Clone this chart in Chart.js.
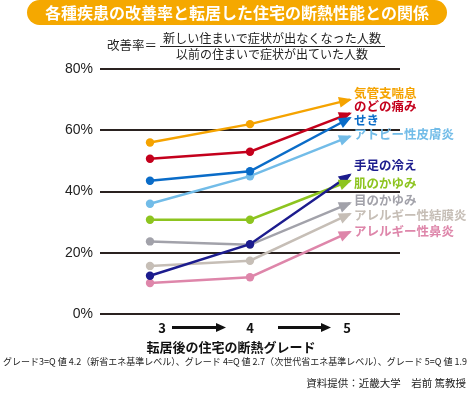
<!DOCTYPE html>
<html><head><meta charset="utf-8">
<script src="https://cdn.jsdelivr.net/npm/chart.js@4"></script>
<style>html,body{margin:0;padding:0;background:#fff}#wrap{width:470px;height:395px}</style>
</head><body><div id="wrap"><canvas id="c" width="470" height="395"></canvas></div>
<script>
const grades = [3, 4, 5];
const yTicks = [0, 20, 40, 60, 80];
const seriesNames = ['気管支喘息','のどの痛み','せき','アトピー性皮膚炎','手足の冷え','肌のかゆみ','目のかゆみ','アレルギー性結膜炎','アレルギー性鼻炎'];
const asthma   = [56.0, 62.0, 70.0];
const throat   = [50.7, 53.0, 65.5];
const cough    = [43.5, 46.6, 64.0];
const atopic   = [36.0, 45.0, 58.0];
const coldLimb = [12.5, 22.8, 45.5];
const skinItch = [30.8, 30.8, 43.5];
const eyeItch  = [23.7, 22.6, 36.2];
const conjunct = [15.7, 17.4, 32.7];
const rhinitis = [10.1, 12.0, 26.8];
const seriesValues = [asthma, throat, cough, atopic, coldLimb, skinItch, eyeItch, conjunct, rhinitis];
const colors = ['#F5A300','#C4001C','#0A6CC8','#72BCE8','#1C1C8E','#8DC41F','#A2A2AA','#C6BEB6','#DE86AA'];
const labelY = [93, 106, 120, 134, 165, 183, 200, 215, 231];
const JP = '"Noto Sans CJK JP", sans-serif';

const datasets = seriesValues.map((vals, i) => ({
  label: seriesNames[i],
  data: vals.map((v, j) => ({x: grades[j], y: v})),
  borderColor: colors[i],
  backgroundColor: colors[i],
  borderWidth: 2.5,
  pointRadius: vals.map((v, j) => j === vals.length - 1 ? 0 : 4.2),
  pointBorderWidth: 0,
  tension: 0,
  order: i
}));

const deco = {
  id: 'deco',
  afterDatasetsDraw(chart) {
    const ctx = chart.ctx;
    const xs = chart.scales.x;
    // arrowheads
    chart.data.datasets.forEach((ds, i) => {
      const pts = chart.getDatasetMeta(i).data;
      const a = pts[pts.length - 2], b = pts[pts.length - 1];
      const ang = Math.atan2(b.y - a.y, b.x - a.x);
      const L = 11, W = 5.5;
      ctx.save();
      ctx.translate(b.x, b.y);
      ctx.rotate(ang);
      ctx.beginPath();
      ctx.moveTo(2, 0);
      ctx.lineTo(-L, -W);
      ctx.lineTo(-L, W);
      ctx.closePath();
      ctx.fillStyle = ds.borderColor;
      ctx.fill();
      ctx.restore();
    });
    // series labels
    ctx.save();
    ctx.textBaseline = 'middle';
    ctx.textAlign = 'left';
    ctx.font = 'bold 12.5px ' + JP;
    seriesNames.forEach((n, i) => {
      ctx.fillStyle = colors[i];
      ctx.fillText(n, 354, labelY[i]);
    });
    ctx.restore();
  },
  afterDraw(chart) {
    const ctx = chart.ctx;
    const xs = chart.scales.x;
    ctx.save();
    // title pill
    ctx.fillStyle = '#F5A800';
    ctx.beginPath();
    ctx.roundRect(27, 0, 420, 25, 12.5);
    ctx.fill();
    ctx.fillStyle = '#fff';
    ctx.font = 'bold 16px ' + JP;
    ctx.textAlign = 'center';
    ctx.textBaseline = 'middle';
    ctx.fillText('各種疾患の改善率と転居した住宅の断熱性能との関係', 237, 13, 392);
    // formula
    ctx.fillStyle = '#222';
    ctx.font = '12.5px ' + JP;
    ctx.textAlign = 'left';
    ctx.fillText('改善率＝', 107, 45);
    ctx.textAlign = 'center';
    ctx.fillText('新しい住まいで症状が出なくなった人数', 272, 38, 218);
    ctx.fillText('以前の住まいで症状が出ていた人数', 272, 54, 192);
    ctx.strokeStyle = '#222';
    ctx.lineWidth = 1;
    ctx.beginPath();
    ctx.moveTo(160, 46.5); ctx.lineTo(385, 46.5);
    ctx.stroke();
    // grade row
    ctx.font = 'bold 13px ' + JP;
    ctx.fillStyle = '#111';
    const gx = [xs.getPixelForValue(3) + 12, xs.getPixelForValue(4), xs.getPixelForValue(5) - 3];
    grades.forEach((g, j) => ctx.fillText(String(g), gx[j], 328));
    const arrow = (x1, x2, y) => {
      ctx.lineWidth = 3;
      ctx.strokeStyle = '#111';
      ctx.beginPath(); ctx.moveTo(x1, y); ctx.lineTo(x2 - 8, y); ctx.stroke();
      ctx.beginPath(); ctx.moveTo(x2, y); ctx.lineTo(x2 - 10, y - 4.5); ctx.lineTo(x2 - 10, y + 4.5); ctx.closePath();
      ctx.fillStyle = '#111'; ctx.fill();
    };
    arrow(172, 226, 327.5);
    arrow(278, 331, 327.5);
    ctx.font = 'bold 13px ' + JP;
    ctx.fillText('転居後の住宅の断熱グレード', 231, 347);
    ctx.font = '9.5px ' + JP;
    ctx.textAlign = 'left';
    ctx.fillStyle = '#222';
    ctx.fillText('グレード3=Q 値 4.2（新省エネ基準レベル）、グレード 4=Q 値 2.7（次世代省エネ基準レベル）、グレード 5=Q 値 1.9', 3, 361, 464);
    ctx.textAlign = 'right';
    ctx.font = '10.5px ' + JP;
    ctx.fillText('資料提供：近畿大学　岩前 篤教授', 466, 383);
    ctx.restore();
  }
};

new Chart(document.getElementById('c'), {
  type: 'line',
  data: { datasets },
  options: {
    responsive: false,
    animation: false,
    events: [],
    layout: { padding: { left: 0, right: 70, top: 69, bottom: 81 } },
    plugins: { legend: { display: false }, tooltip: { enabled: false } },
    scales: {
      x: { type: 'linear', min: 2.5, max: 5.5, display: false },
      y: {
        min: 0, max: 80,
        afterBuildTicks(s) { s.ticks = yTicks.map(v => ({value: v})); },
        afterFit(s) { s.width = 100; },
        border: { display: false },
        grid: { color: '#2a2220', lineWidth: 2, drawTicks: false },
        ticks: {
          padding: 7,
          color: '#222',
          font: { family: '"Liberation Sans", Arial, sans-serif', size: 14 },
          callback: v => v + '%'
        }
      }
    }
  },
  plugins: [deco]
});
</script></body></html>
